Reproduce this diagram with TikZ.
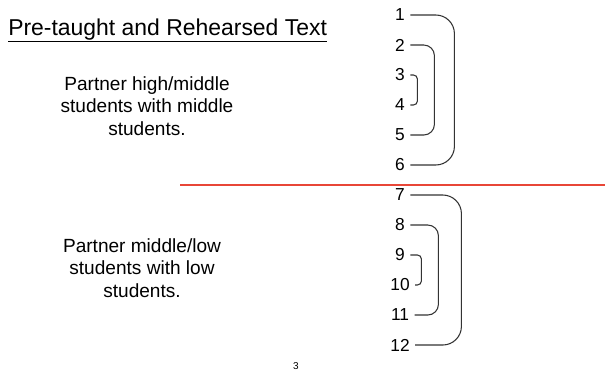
\documentclass[tikz,border=0pt]{standalone}
\usepackage{fontspec}
\setmainfont{Liberation Sans}
\usetikzlibrary{positioning, calc}

\definecolor{divred}{RGB}{232,70,55}

\begin{document}
\begin{tikzpicture}[
    x=0.75pt, y=-0.75pt, % one unit = one pixel of the slide
    num/.style={font=\fontsize{13}{15}\selectfont, inner sep=1pt}, % row numbers
    brace/.style={draw=black!80, line width=0.8pt, rounded corners=#1}, % bracket joining two rows
    group/.style={align=center, font=\fontsize{14.3}{17}\selectfont}
]
    \useasboundingbox (0,0) rectangle (605,376);

    % Heading, underlined like the slide
    \node[font=\fontsize{17.2}{20}\selectfont, anchor=base west, inner sep=0pt] (title) at (8,35)
        {\underline{Pre-taught and Rehearsed Text}};

    % Instructions for the two halves
    \node[group] (grpA) at (147,106) {Partner high/middle\\students with middle\\students.};
    \node[group] (grpB) at (142,268) {Partner middle/low\\students with low\\students.};

    % Red line between the halves
    \coordinate (divL) at (180,185);
    \coordinate (divR) at (605,185);
    \draw[divred, line width=1.1pt] (divL) -- (divR);

    % Row numbers 1..12
    \foreach \i in {1,...,12}
        \node[num] (n\i) at (400,{15+30*(\i-1)}) {\i};

    % Brackets: outer, middle and inner pair in each half
    \draw[brace=14pt] ([xshift=3]n1.east) -- ++(44,0) |- ([xshift=3]n6.east);
    \draw[brace=8pt] ([xshift=3]n2.east) -- ++(24,0) |- ([xshift=3]n5.east);
    \draw[brace=3pt] ([xshift=3]n3.east) -- ++(7,0) |- ([xshift=3]n4.east);
    \draw[brace=14pt] ([xshift=3]n7.east) -- ++(51,0) |- ([xshift=3]n12.east);
    \draw[brace=8pt] ([xshift=3]n8.east) -- ++(28,0) |- ([xshift=3]n11.east);
    \draw[brace=3pt] ([xshift=3]n9.east) -- ++(11,0) |- ([xshift=3]n10.east);

    % Page number
    \node[font=\fontsize{7.5}{9}\selectfont] (pageno) at (296,366) {3};

\end{tikzpicture}
\end{document}
